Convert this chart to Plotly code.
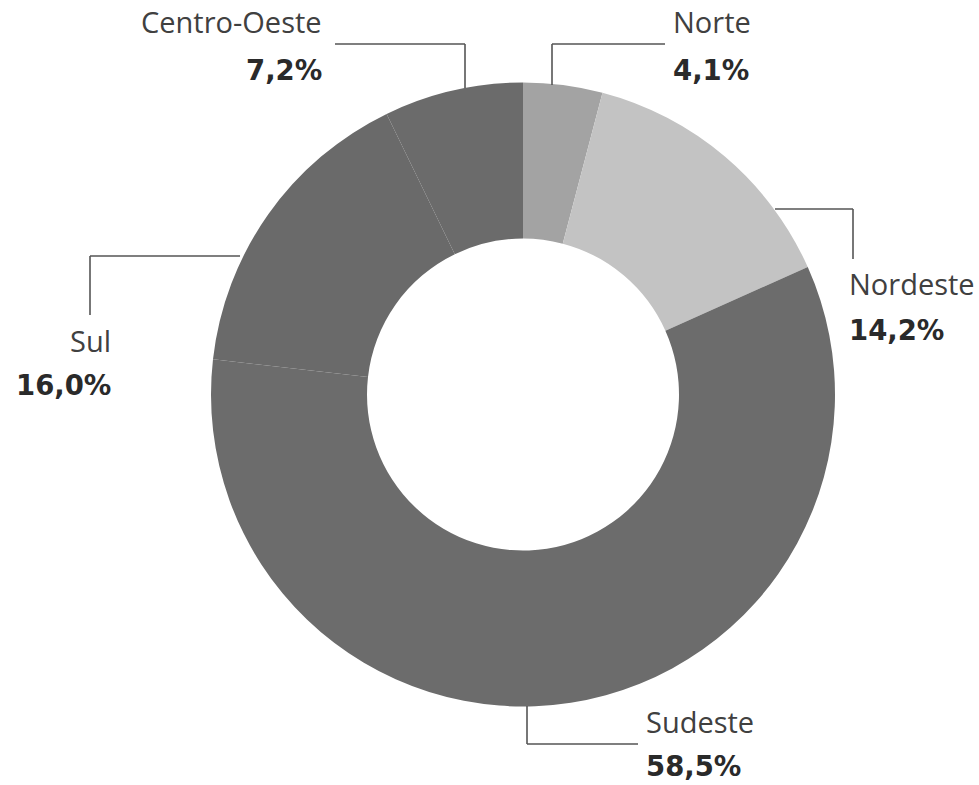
import plotly.graph_objects as go

# Regional shares (%), clockwise from the top
regions = ["Norte", "Nordeste", "Sudeste", "Sul", "Centro-Oeste"]
shares = [4.1, 14.2, 58.5, 16.0, 7.2]
colors = ["#a3a3a3", "#c3c3c3", "#6c6c6c", "#6a6a6a", "#6b6b6b"]

W, H = 979, 785


def px(x, y):
    """Convert page pixel coordinates to paper coordinates."""
    return x / W, 1 - y / H


fig = go.Figure(
    go.Pie(
        labels=regions,
        values=shares,
        hole=0.5,
        sort=False,
        direction="clockwise",
        rotation=0,
        marker=dict(colors=colors, line=dict(width=0)),
        textinfo="none",
        hoverinfo="label+value",
        showlegend=False,
        domain=dict(x=[211 / W, 835 / W], y=[(390.5 - 312) / H, (390.5 + 312) / H]),
    )
)

# Callout layout: leader-line path and text anchor for each region
callouts = {
    "Centro-Oeste": dict(path=[(335, 44), (465, 44), (465, 88)], tx=324, ty=(22, 70), anchor="right"),
    "Norte": dict(path=[(552, 85), (552, 44), (665, 44)], tx=671, ty=(22, 70), anchor="left"),
    "Nordeste": dict(path=[(775, 209), (853, 209), (853, 259)], tx=847, ty=(284, 330), anchor="left"),
    "Sul": dict(path=[(240, 256), (90, 256), (90, 315)], tx=113, ty=(340, 385), anchor="right"),
    "Sudeste": dict(path=[(527, 706), (527, 744), (638, 744)], tx=644, ty=(721, 766), anchor="left"),
}

name_font = dict(family="Open Sans, Noto Sans, sans-serif", size=29, color="#404040")
value_font = dict(family="DejaVu Sans, sans-serif", size=27.5, color="#2a2a2a")

for name, val in zip(regions, shares):
    c = callouts[name]
    pts = c["path"]
    for (x0, y0), (x1, y1) in zip(pts[:-1], pts[1:]):
        a0, b0 = px(x0, y0)
        a1, b1 = px(x1, y1)
        fig.add_shape(type="line", xref="paper", yref="paper", x0=a0, y0=b0, x1=a1, y1=b1,
                      line=dict(color="#555555", width=1.6))
    xa, ya = px(c["tx"], c["ty"][0])
    fig.add_annotation(x=xa, y=ya, xref="paper", yref="paper", text=name, showarrow=False,
                       xanchor=c["anchor"], yanchor="middle", font=name_font)
    xb, yb = px(c["tx"], c["ty"][1])
    fig.add_annotation(x=xb, y=yb, xref="paper", yref="paper",
                       text="<b>" + f"{val:.1f}".replace(".", ",") + "%</b>", showarrow=False,
                       xanchor=c["anchor"], yanchor="middle", font=value_font)

fig.update_layout(
    width=W,
    height=H,
    margin=dict(l=0, r=0, t=0, b=0),
    paper_bgcolor="white",
    plot_bgcolor="white",
)

fig.write_html("out.html")
